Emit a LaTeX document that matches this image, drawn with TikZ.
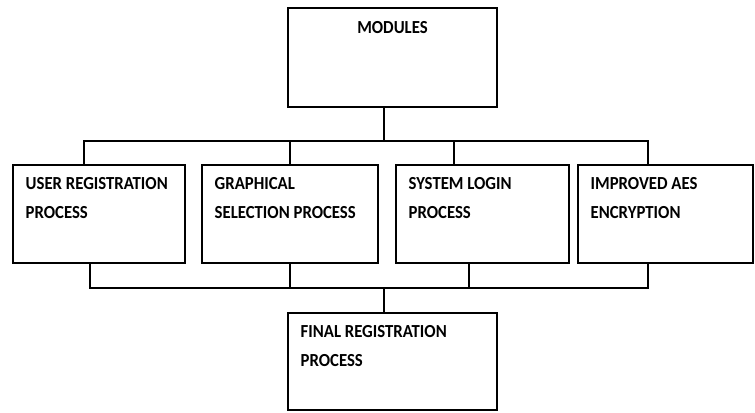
\documentclass[tikz,border=0pt]{standalone}
\usepackage{fontspec}
\setmainfont{Carlito}
\newfontfamily\modfont{Carlito}[FakeStretch=0.91]

\tikzset{
  modbox/.style={draw, line width=1.4pt, rectangle, inner sep=0pt, minimum width=#1},
  boxtext/.style={font=\modfont\bfseries\fontsize{13.8}{21.75}\selectfont, align=left, inner sep=0pt},
  intext/.style={boxtext, anchor=north west, xshift=10pt, yshift=-10pt},
  bus/.style={line width=1.4pt}
}

\begin{document}
\begin{tikzpicture}[x=0.75pt,y=0.75pt]
\useasboundingbox (0,0) rectangle (755,412);
% top box
\node[modbox=156.75pt, minimum height=74.25pt,
  label={[boxtext, anchor=north, yshift=-10.5pt]north:MODULES}] (mod) at (392.5,354.5) {};
% the four modules
\node[modbox=129pt, minimum height=73.5pt,
  label={[intext]north west:USER REGISTRATION\\PROCESS}] (user) at (99,198) {};
\node[modbox=132pt, minimum height=73.5pt,
  label={[intext]north west:GRAPHICAL\\SELECTION PROCESS}] (graph) at (290,198) {};
\node[modbox=129.75pt, minimum height=73.5pt,
  label={[intext]north west:SYSTEM LOGIN\\PROCESS}] (login) at (482.5,198) {};
\node[modbox=131.25pt, minimum height=73.5pt,
  label={[intext]north west:IMPROVED AES\\ENCRYPTION}] (aes) at (665.5,198) {};
% bottom box
\node[modbox=156.75pt, minimum height=72.75pt,
  label={[intext]north west:FINAL REGISTRATION\\PROCESS}] (final) at (392.5,50.5) {};

% upper bus
\coordinate (topbus) at (384,271);
\draw[bus] ([xshift=-6.4pt]mod.south) -- ([xshift=-6.4pt]mod.south |- topbus);
\draw[bus] ([xshift=-11.25pt]user.north) |- ([xshift=-13.1pt]aes.north |- topbus)
  -- ([xshift=-13.1pt]aes.north);
\draw[bus] (graph.north) -- (graph.north |- topbus);
\draw[bus] ([xshift=-21.4pt]login.north) -- ([xshift=-21.4pt]login.north |- topbus);

% lower bus
\coordinate (botbus) at (384,124);
\draw[bus] ([xshift=-6.75pt]user.south) |- ([xshift=-13.1pt]aes.south |- botbus)
  -- ([xshift=-13.1pt]aes.south);
\draw[bus] (graph.south) -- (graph.south |- botbus);
\draw[bus] ([xshift=-10.1pt]login.south) -- ([xshift=-10.1pt]login.south |- botbus);
\draw[bus] ([xshift=-6.4pt]final.north) -- ([xshift=-6.4pt]final.north |- botbus);
\end{tikzpicture}
\end{document}
